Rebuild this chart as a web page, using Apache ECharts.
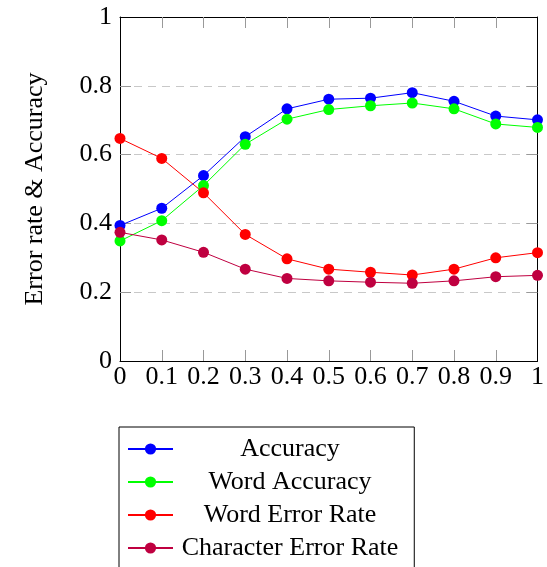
<!DOCTYPE html>
<html>
<head>
<meta charset="utf-8">
<script src="https://cdn.jsdelivr.net/npm/echarts@6/dist/echarts.min.js"></script>
<style>
  html, body { margin: 0; padding: 0; background: #fff; }
  #chart { width: 547px; height: 567px; }
</style>
</head>
<body>
<div id="chart"></div>
<script>
const xValues = [0, 0.1, 0.2, 0.3, 0.4, 0.5, 0.6, 0.7, 0.8, 0.9, 1]
const accuracy = [0.394, 0.444, 0.539, 0.652, 0.733, 0.761, 0.764, 0.780, 0.755, 0.712, 0.701]
const wordAccuracy = [0.349, 0.408, 0.510, 0.630, 0.703, 0.731, 0.742, 0.750, 0.733, 0.689, 0.679]
const wordErrorRate = [0.647, 0.589, 0.489, 0.368, 0.297, 0.267, 0.258, 0.250, 0.267, 0.300, 0.315]
const charErrorRate = [0.374, 0.352, 0.316, 0.267, 0.240, 0.233, 0.229, 0.226, 0.233, 0.245, 0.249]

// inner tick marks (pgfplots skips the ones on the frame corners)
const xInnerTicks = [0.1, 0.2, 0.3, 0.4, 0.5, 0.6, 0.7, 0.8, 0.9]
const yInnerTicks = [0.2, 0.4, 0.6, 0.8]

const font = 'Liberation Serif'
const chart = echarts.init(document.getElementById('chart'))

function pairs(ys) {
  return xValues.map((x, i) => [x, ys[i]])
}

function lineSeries(name, ys, color) {
  return {
    name: name,
    type: 'line',
    data: pairs(ys),
    symbol: 'circle',
    symbolSize: 11,
    itemStyle: { color: color },
    lineStyle: { color: color, width: 1 },
    animation: false
  }
}

function ticks(values) {
  return { show: true, inside: true, length: 11, customValues: values, lineStyle: { color: '#999', width: 1 } }
}
const frameLine = { show: true, onZero: false, lineStyle: { color: '#000', width: 1 } }
const fmt = v => String(Math.round(v * 10) / 10)

chart.setOption({
  backgroundColor: '#fff',
  grid: { left: 120, right: 9, top: 17, bottom: 206 },
  xAxis: [
    {
      type: 'value', min: 0, max: 1, interval: 0.1,
      axisLine: frameLine,
      axisTick: ticks(xInnerTicks),
      splitLine: { show: false },
      axisLabel: { color: '#000', fontFamily: font, fontSize: 26, margin: 3, formatter: fmt }
    },
    {
      type: 'value', position: 'top', min: 0, max: 1, interval: 0.1,
      axisLine: frameLine,
      axisTick: ticks(xInnerTicks),
      splitLine: { show: false },
      axisLabel: { show: false }
    }
  ],
  yAxis: [
    {
      type: 'value', min: 0, max: 1, interval: 0.2,
      name: 'Error rate & Accuracy',
      nameLocation: 'middle', nameGap: 72,
      nameTextStyle: { color: '#000', fontFamily: font, fontSize: 26 },
      axisLine: frameLine,
      axisTick: ticks(yInnerTicks),
      splitLine: { show: true, lineStyle: { color: '#c8c8c8', width: 1, type: [8, 6] } },
      axisLabel: { color: '#000', fontFamily: font, fontSize: 26, margin: 8, formatter: fmt }
    },
    {
      type: 'value', position: 'right', min: 0, max: 1, interval: 0.2,
      axisLine: frameLine,
      axisTick: ticks(yInnerTicks),
      splitLine: { show: false },
      axisLabel: { show: false }
    }
  ],
  legend: {
    orient: 'vertical',
    left: 119, top: 427,
    height: 200,
    padding: [9, 16, 30, 8],
    itemWidth: 45, itemHeight: 14, itemGap: 7,
    borderColor: '#000', borderWidth: 1,
    formatter: name => '{t|' + name + '}',
    textStyle: {
      color: '#000', fontFamily: font, fontSize: 26,
      rich: { t: { width: 224, align: 'center', fontFamily: font, fontSize: 26, color: '#000' } }
    },
    data: ['Accuracy', 'Word Accuracy', 'Word Error Rate', 'Character Error Rate']
  },
  series: [
    lineSeries('Accuracy', accuracy, '#0000ff'),
    lineSeries('Word Accuracy', wordAccuracy, '#00ff00'),
    lineSeries('Word Error Rate', wordErrorRate, '#ff0000'),
    lineSeries('Character Error Rate', charErrorRate, '#bf0040')
  ]
})
</script>
</body>
</html>
